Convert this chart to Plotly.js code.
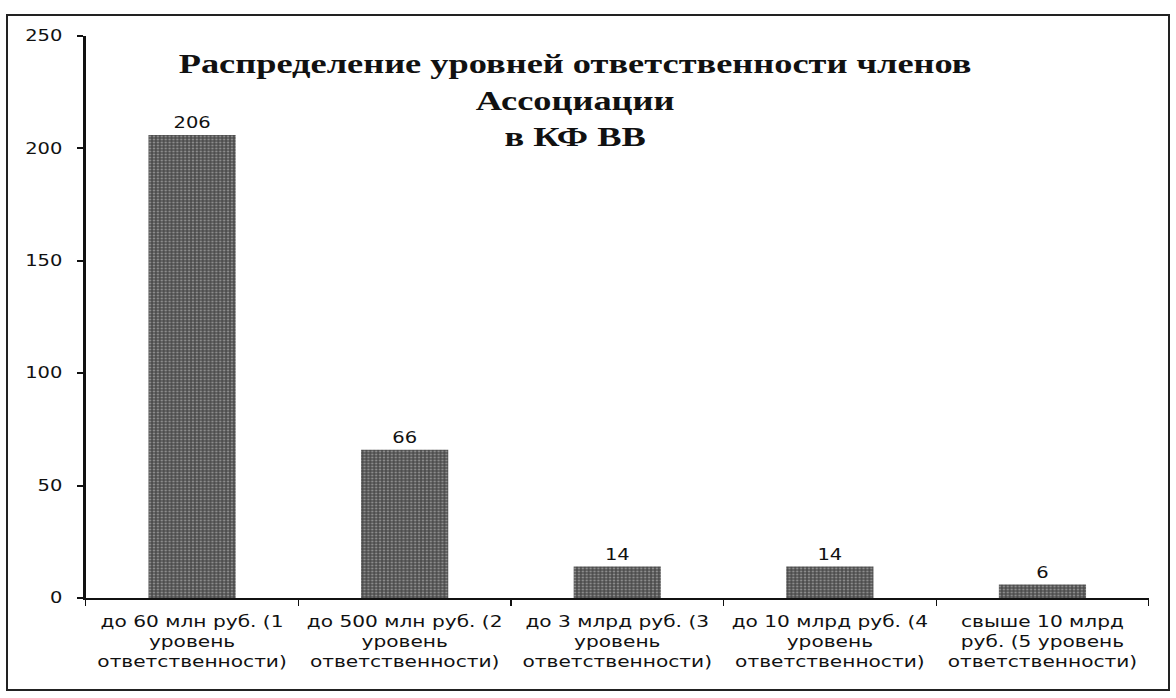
<!DOCTYPE html>
<html>
<head>
<meta charset="utf-8">
<script src="https://cdn.plot.ly/plotly-3.0.1.min.js"></script>
<style>
html,body{margin:0;padding:0;background:#fff;overflow:hidden;}
#wrap{position:relative;width:1176px;height:698px;overflow:hidden;}
#chart{position:absolute;left:0;top:0;width:905px;height:698px;transform:scaleX(1.2995);transform-origin:0 0;}
#frame{position:absolute;left:6px;top:14px;width:1164px;height:677px;border:2px solid #222;box-sizing:border-box;pointer-events:none;}
</style>
</head>
<body>
<div id="wrap"><div id="chart"></div><div id="frame"></div></div>
<script>
const categories = [
  "до 60 млн руб. (1<br>уровень<br>ответственности)",
  "до 500 млн руб. (2<br>уровень<br>ответственности)",
  "до 3 млрд руб. (3<br>уровень<br>ответственности)",
  "до 10 млрд руб. (4<br>уровень<br>ответственности)",
  "свыше 10 млрд<br>руб. (5 уровень<br>ответственности)"
];
const values = [206, 66, 14, 14, 6];
const yTicks = [0, 50, 100, 150, 200, 250];
const titleText = "Распределение уровней ответственности членов<br>Ассоциации<br>в КФ ВВ";

const sansFont = "'DejaVu Sans', Verdana, sans-serif";
const serifFont = "'Liberation Serif', 'Times New Roman', serif";

const trace = {
  type: "bar",
  x: categories,
  y: values,
  text: values.map(String),
  textposition: "outside",
  cliponaxis: false,
  textfont: {family: sansFont, size: 15, color: "#111"},
  marker: {
    color: "#555555",
    line: {width: 0},
    pattern: {shape: ".", fgcolor: "#8c8c8c", bgcolor: "#4d4d4d", size: 3, solidity: 0.35}
  },
  hoverinfo: "x+y"
};

const layout = {
  width: 905,
  height: 698,
  margin: {l: 66, r: 21, t: 36, b: 100},
  paper_bgcolor: "rgba(0,0,0,0)",
  plot_bgcolor: "rgba(0,0,0,0)",
  showlegend: false,
  bargap: 0.59,
  title: {
    text: titleText,
    font: {family: serifFont, size: 28, color: "#111", weight: "bold"},
    x: 0.489,
    xref: "container",
    y: 0.895,
    yref: "container",
    yanchor: "top"
  },
  xaxis: {
    type: "category",
    showline: true,
    linecolor: "#111",
    linewidth: 2,
    ticks: "outside",
    tickson: "boundaries",
    ticklen: 6,
    tickwidth: 1,
    tickcolor: "#111",
    showgrid: false,
    tickangle: 0,
    ticklabelstandoff: 8,
    tickfont: {family: sansFont, size: 15.5, color: "#111"},
    automargin: false
  },
  yaxis: {
    range: [0, 250],
    tickvals: yTicks,
    ticktext: yTicks.map(String),
    showline: true,
    linecolor: "#111",
    linewidth: 2,
    ticks: "outside",
    ticklen: 5,
    tickwidth: 2,
    tickcolor: "#111",
    showgrid: false,
    zeroline: false,
    ticklabelstandoff: 8,
    tickfont: {family: sansFont, size: 15, color: "#111"},
    automargin: false
  }
};

Plotly.newPlot("chart", [trace], layout, {displayModeBar: false, staticPlot: true});
</script>
</body>
</html>
